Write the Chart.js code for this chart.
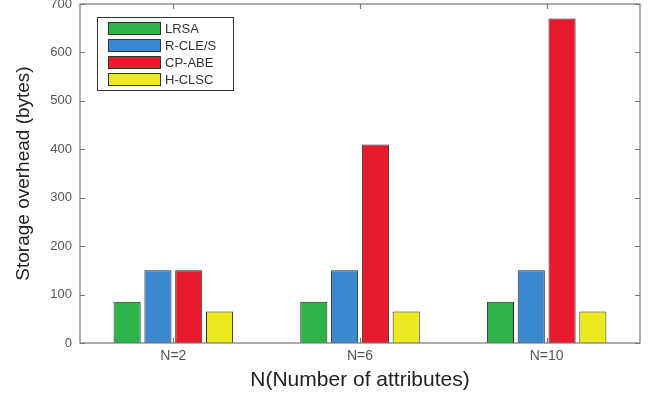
<!DOCTYPE html>
<html lang="en">
<head>
  <meta charset="UTF-8">
  <title>Storage overhead</title>
  <style>
    html, body { margin: 0; padding: 0; background: #fff; }
    #wrap { width: 651px; height: 399px; }
  </style>
</head>
<body>
  <div id="wrap"><canvas id="chart" width="651" height="399"></canvas></div>

  <script src="https://cdn.jsdelivr.net/npm/chart.js"></script>
  <script>
    const categories = ['N=2', 'N=6', 'N=10'];
    const lrsa = [85, 85, 85];
    const rcles = [150, 150, 150];
    const cpabe = [150, 410, 670];
    const hclsc = [65, 65, 65];
    const yTicks = [0, 100, 200, 300, 400, 500, 600, 700];

    const font = 'Arial, "Liberation Sans", Helvetica, sans-serif';

    // box around plot + inward ticks, matlab style
    const boxPlugin = {
      id: 'box',
      afterDatasetsDraw(chart) {
        const { ctx, chartArea: a, scales } = chart;
        ctx.save();
        ctx.strokeStyle = '#777';
        ctx.lineWidth = 1.2;
        ctx.strokeRect(a.left, a.top, a.right - a.left, a.bottom - a.top);
        ctx.beginPath();
        yTicks.forEach(v => {
          const y = Math.round(scales.y.getPixelForValue(v)) + 0.5;
          ctx.moveTo(a.left, y); ctx.lineTo(a.left + 5, y);
          ctx.moveTo(a.right, y); ctx.lineTo(a.right - 5, y);
        });
        categories.forEach((c, i) => {
          const x = Math.round(scales.x.getPixelForValue(i)) + 0.5;
          ctx.moveTo(x, a.bottom); ctx.lineTo(x, a.bottom - 5);
          ctx.moveTo(x, a.top); ctx.lineTo(x, a.top + 5);
        });
        ctx.stroke();
        ctx.restore();
      },
      afterDraw(chart) {
        const { ctx, chartArea: a } = chart;
        const x0 = a.left + 17, y0 = a.top + 13, w = 136, h = 73;
        ctx.save();
        ctx.fillStyle = '#fff';
        ctx.fillRect(x0, y0, w, h);
        ctx.strokeStyle = '#333';
        ctx.lineWidth = 1;
        ctx.strokeRect(x0 + 0.5, y0 + 0.5, w, h);
        ctx.font = '13px ' + font;
        ctx.textBaseline = 'middle';
        chart.data.datasets.forEach((ds, i) => {
          const cy = y0 + 11 + i * 17;
          ctx.fillStyle = ds.backgroundColor;
          ctx.fillRect(x0 + 11, cy - 6, 52, 12);
          ctx.strokeStyle = '#333';
          ctx.strokeRect(x0 + 11.5, cy - 5.5, 52, 12);
          ctx.fillStyle = '#333';
          ctx.fillText(ds.label, x0 + 68, cy + 1);
        });
        ctx.restore();
      }
    };

    const mk = (label, data, color) => ({
      label, data, backgroundColor: color,
      borderColor: '#2a2a2a', borderWidth: 1,
      categoryPercentage: 0.66, barPercentage: 0.88
    });

    new Chart(document.getElementById('chart'), {
      type: 'bar',
      data: {
        labels: categories,
        datasets: [
          mk('LRSA', lrsa, '#2eb34a'),
          mk('R-CLE/S', rcles, '#3b87d0'),
          mk('CP-ABE', cpabe, '#e8192c'),
          mk('H-CLSC', hclsc, '#ecea1f')
        ]
      },
      options: {
        responsive: false,
        animation: false,
        layout: { padding: { left: 0, right: 11, top: 4, bottom: 0 } },
        plugins: { legend: { display: false }, tooltip: { enabled: false } },
        scales: {
          x: {
            grid: { display: false, drawTicks: false },
            border: { display: false },
            ticks: { color: '#555', font: { family: font, size: 14 }, padding: 5 },
            title: { display: true, text: 'N(Number of attributes)', color: '#222', font: { family: font, size: 21 }, padding: { top: 0, bottom: 6 } },
            afterFit(s) { s.height = 56; s.paddingLeft = 0; s.paddingRight = 0; }
          },
          y: {
            min: 0, max: 700,
            grid: { display: false, drawTicks: false },
            border: { display: false },
            afterBuildTicks(s) { s.ticks = yTicks.map(v => ({ value: v })); },
            ticks: { color: '#555', font: { family: font, size: 13 }, padding: 8 },
            title: { display: true, text: 'Storage overhead (bytes)', color: '#222', font: { family: font, size: 19 }, padding: { top: 12, bottom: 0 } },
            afterFit(s) { s.width = 80; s.paddingTop = 0; s.paddingBottom = 0; }
          }
        }
      },
      plugins: [boxPlugin]
    });
  </script>
</body>
</html>
